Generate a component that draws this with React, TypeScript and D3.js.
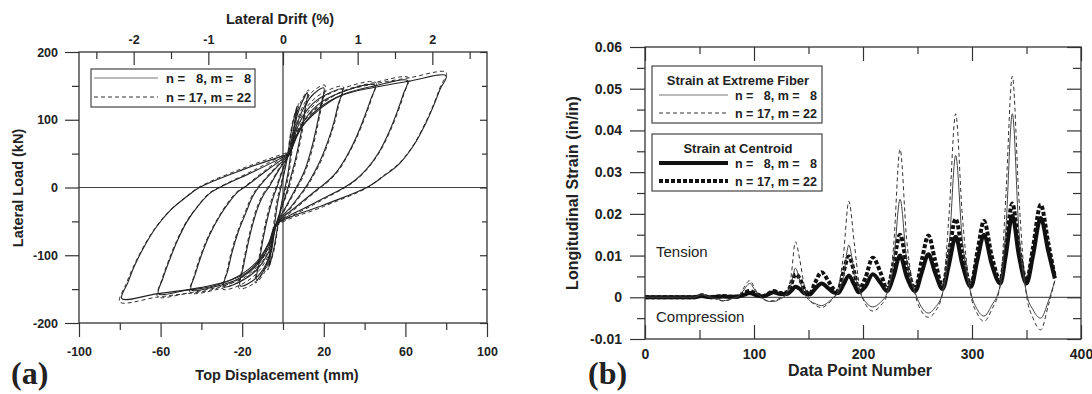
import { useEffect, useRef } from "react";
import * as d3 from "d3";

// ---------- (a) hysteresis: [top displacement (mm), lateral load (kN)] ----------
const loopsN8: [number, number][][] = [
  [[3.5, 50], [8, 84], [17, 113], [28, 135], [45, 148], [62, 157], [80, 165],
   [77, 145], [74, 122], [70, 95], [64, 62], [57, 35], [49, 16], [41, 0],
   [20, -26], [-3.5, -55],
   [-6, -76], [-11, -105], [-18, -126], [-28, -139], [-45, -150], [-62, -157], [-79, -164],
   [-76, -140], [-73, -117], [-68, -87], [-62, -58], [-55, -33], [-47, -13], [-41, 0],
   [-20, 26], [3.5, 50]],
  [[3.5, 50], [9, 88], [18, 118], [30, 138], [45, 150], [61, 158],
   [59, 138], [56, 112], [52, 82], [47, 52], [41, 27], [35, 10], [30, 0],
   [14, -25], [-3.5, -55],
   [-7, -82], [-13, -110], [-22, -131], [-35, -146], [-48, -152], [-61, -157],
   [-59, -135], [-56, -110], [-52, -80], [-47, -50], [-41, -25], [-36, -9], [-31, 0],
   [-14, 24], [3.5, 50]],
  [[3.5, 50], [9, 92], [17, 122], [28, 140], [45, 151],
   [43, 130], [40, 105], [36, 75], [31, 45], [26, 22], [21, 7], [18, 0],
   [7, -27], [-3.5, -55],
   [-7, -88], [-13, -115], [-22, -135], [-33, -146], [-45, -151],
   [-43, -128], [-40, -100], [-36, -70], [-31, -42], [-26, -20], [-22, -6], [-19, 0],
   [-8, 25], [3.5, 50]],
  [[3.5, 50], [8, 95], [14, 122], [21, 137], [29, 145],
   [27, 122], [25, 97], [22, 68], [18, 38], [14, 15], [11, 0],
   [4, -28], [-3.5, -55],
   [-7, -95], [-13, -122], [-21, -139], [-29, -146],
   [-27, -122], [-25, -96], [-22, -66], [-18, -36], [-15, -14], [-12, 0],
   [-4, 27], [3.5, 50]],
  [[3.5, 50], [7, 95], [11, 122], [15, 138], [20, 147],
   [18.5, 120], [16.5, 90], [14, 58], [11, 28], [8, 8], [6.5, 0],
   [1.5, -28], [-3.5, -55],
   [-6, -95], [-10, -122], [-15, -138], [-21, -145],
   [-19.5, -118], [-17.5, -88], [-15, -56], [-12, -27], [-9, -8], [-7, 0],
   [-2, 26], [3.5, 50]],
  [[3, 50], [5.5, 90], [8.5, 120], [12, 140],
   [10.5, 110], [8.5, 75], [6, 40], [3.5, 12], [2.5, 0],
   [-0.5, -28], [-3.5, -55],
   [-6, -92], [-9, -120], [-13, -137],
   [-11.5, -107], [-9.5, -72], [-7, -38], [-4.5, -12], [-3, 0],
   [0, 27], [3, 50]],
  [[2.5, 50], [4.5, 90], [7, 120],
   [5.5, 90], [4, 55], [2.5, 22], [1, 0],
   [-1, -28], [-2.5, -55],
   [-4.5, -90], [-7, -118],
   [-5.5, -88], [-4, -52], [-2.5, -20], [-1, 0],
   [1, 27], [2.5, 50]],
];

const loopsN17: [number, number][][] = [
  [[3.5, 53], [8, 88], [17, 118], [28, 140], [45, 153], [62, 162], [80, 170],
   [77, 148], [74, 124], [70, 97], [64, 63], [57, 36], [49, 17], [41.5, 0],
   [20, -28], [-3.5, -58],
   [-6, -80], [-11, -110], [-18, -131], [-28, -144], [-45, -155], [-62, -162], [-80, -169],
   [-77, -143], [-73.5, -118], [-68.5, -88], [-62.5, -59], [-55.5, -34], [-47.5, -14], [-41.5, 0],
   [-20, 28], [3.5, 53]],
  [[3.5, 53], [9, 92], [18, 122], [30, 143], [45, 155], [61.5, 162],
   [59.5, 140], [56.5, 113], [52.5, 83], [47.5, 53], [41.5, 28], [35.5, 10], [30.5, 0],
   [14, -27], [-3.5, -58],
   [-7, -86], [-13, -115], [-22, -136], [-35, -151], [-48, -157], [-61.5, -161],
   [-59.5, -137], [-56.5, -111], [-52.5, -81], [-47.5, -51], [-41.5, -26], [-36.5, -9], [-31.5, 0],
   [-14, 26], [3.5, 53]],
  [[3.5, 53], [9, 96], [17, 127], [28, 145], [45.5, 155],
   [43.5, 132], [40.5, 106], [36.5, 76], [31.5, 46], [26.5, 22], [21.5, 7], [18.5, 0],
   [7, -29], [-3.5, -58],
   [-7, -92], [-13, -120], [-22, -140], [-33, -151], [-45.5, -155],
   [-43.5, -130], [-40.5, -101], [-36.5, -71], [-31.5, -43], [-26.5, -20], [-22.5, -6], [-19.5, 0],
   [-8, 27], [3.5, 53]],
  [[3.5, 53], [8, 99], [14, 127], [21, 142], [29.5, 149],
   [27.5, 124], [25.5, 98], [22.5, 69], [18.5, 38], [14.5, 15], [11.5, 0],
   [4, -30], [-3.5, -58],
   [-7, -99], [-13, -127], [-21, -144], [-29.5, -150],
   [-27.5, -124], [-25.5, -97], [-22.5, -67], [-18.5, -36], [-15.5, -14], [-12.5, 0],
   [-4, 29], [3.5, 53]],
  [[3.5, 53], [7, 99], [11, 127], [15, 143], [20.5, 151],
   [19, 122], [17, 91], [14.5, 58], [11.5, 28], [8.5, 8], [7, 0],
   [1.5, -30], [-3.5, -58],
   [-6, -99], [-10, -127], [-15, -143], [-21.5, -149],
   [-20, -120], [-18, -89], [-15.5, -57], [-12.5, -27], [-9.5, -8], [-7.5, 0],
   [-2, 28], [3.5, 53]],
  [[3, 53], [5.5, 94], [8.5, 125], [12.5, 144],
   [11, 112], [9, 76], [6.5, 40], [4, 12], [3, 0],
   [-0.5, -30], [-3.5, -58],
   [-6, -96], [-9, -125], [-13.5, -141],
   [-12, -109], [-10, -73], [-7.5, -38], [-5, -12], [-3.5, 0],
   [0, 29], [3, 53]],
  [[2.5, 53], [4.5, 94], [7.5, 124],
   [6, 92], [4.5, 56], [3, 22], [1.5, 0],
   [-1, -30], [-2.5, -58],
   [-4.5, -94], [-7.5, -122],
   [-6, -90], [-4.5, -53], [-3, -20], [-1.5, 0],
   [1, 29], [2.5, 53]],
];

const dispMinor = [-80, -40, 0, 40, 80];
const dispMajor = [-100, -60, -20, 20, 60, 100];
const loadMinor = [-150, -50, 50, 150];
const loadMajor = [-200, -100, 0, 100, 200];
const driftMinor = [-2.5, -1.5, -0.5, 0.5, 1.5, 2.5];
const driftMajor = [-2, -1, 0, 1, 2];
const mmPerPercentDrift = 36.6;

// ---------- (b) longitudinal strain vs data point number ----------
const pointNumbers = [0, 10, 20, 30, 40, 45, 52, 60, 66, 72, 80, 86, 90, 96, 102, 108, 114, 118, 124, 130,
  134, 138, 142, 146, 151, 156, 162, 168, 173, 177, 182, 187, 192, 196, 202, 209, 216, 222, 228, 234,
  240, 248, 254, 260, 266, 273, 279, 285, 291, 299, 305, 311, 318, 326, 331, 337, 343, 350, 356, 363,
  370, 376];
const fiberN8 = [0, 0, 0, 0, 0, 0, 0.0006, 0, -0.0004, -0.0008, -0.0003, 0.0003, 0.0015, 0.0033, 0.0012, -0.0003, -0.001, -0.001, -0.0004, 0.0008,
  0.003, 0.007, 0.004, 0.001, -0.0008, -0.0015, -0.002, -0.0012, 0, 0.001, 0.005, 0.0125, 0.006, 0.002, -0.001, -0.0023, -0.0012, 0.001, 0.008, 0.0235,
  0.009, 0.001, -0.0025, -0.0038, -0.0025, 0.001, 0.012, 0.034, 0.014, 0.001, -0.003, -0.0045, -0.002, 0.003, 0.016, 0.044, 0.016, 0.001, -0.003, -0.005,
  -0.001, 0.004];
const fiberN17 = [0, 0, 0, 0, 0, 0, 0.0009, 0, -0.0005, -0.0009, -0.0004, 0.0003, 0.002, 0.004, 0.0015, -0.0003, -0.0009, -0.0008, -0.0002, 0.001,
  0.005, 0.0133, 0.009, 0.003, -0.0005, -0.0018, -0.0025, -0.0015, -0.0002, 0.002, 0.01, 0.023, 0.013, 0.004, -0.0015, -0.0033, -0.002, 0.0005, 0.012, 0.0355,
  0.014, 0.0005, -0.0035, -0.0048, -0.0035, 0.001, 0.02, 0.044, 0.02, 0.0005, -0.004, -0.0058, -0.003, 0.003, 0.024, 0.053, 0.024, 0.0005, -0.005, -0.0078,
  -0.002, 0.004];
const centroidN8 = [0, 0, 0, 0, 0, 0, 0.0003, 0, 0.0001, 0.0002, 0.0001, 0.0002, 0.0005, 0.001, 0.0005, 0.0002, 0.0008, 0.0012, 0.0008, 0.0008,
  0.0015, 0.0025, 0.002, 0.001, 0.0007, 0.002, 0.0033, 0.0022, 0.0012, 0.001, 0.003, 0.0052, 0.003, 0.0012, 0.0025, 0.0055, 0.0035, 0.0015, 0.005, 0.01,
  0.005, 0.0015, 0.006, 0.0103, 0.006, 0.002, 0.008, 0.0145, 0.008, 0.0025, 0.009, 0.015, 0.008, 0.0033, 0.01, 0.0195, 0.01, 0.0033, 0.01, 0.019,
  0.011, 0.0045];
const centroidN17 = [0, 0, 0, 0, 0, 0, 0.0004, 0, 0.0002, 0.0003, 0.0001, 0.0002, 0.0008, 0.0015, 0.0008, 0.0003, 0.001, 0.0015, 0.001, 0.0012,
  0.003, 0.0055, 0.0045, 0.002, 0.0008, 0.0035, 0.006, 0.004, 0.002, 0.0015, 0.006, 0.0098, 0.006, 0.0018, 0.0045, 0.0095, 0.006, 0.002, 0.008, 0.015,
  0.008, 0.002, 0.009, 0.0148, 0.009, 0.0025, 0.011, 0.0188, 0.011, 0.003, 0.011, 0.0183, 0.01, 0.004, 0.012, 0.0225, 0.012, 0.004, 0.012, 0.0222,
  0.013, 0.0048];

const strainMinor = [-0.005, 0.005, 0.015, 0.025, 0.035, 0.045, 0.055];
const strainMajor = [-0.01, 0, 0.01, 0.02, 0.03, 0.04, 0.05, 0.06];
const pointMinor = [50, 150, 250, 350];
const pointMajor = [0, 100, 200, 300, 400];

const SANS = "'Liberation Sans', Arial, sans-serif";
const SERIF = "'Liberation Serif', 'Times New Roman', serif";
const INK = "#222";

// plain hyphen minus, like the original figure
const intLabel = (d: number) => String(d);
const strainLabel = (d: number) => (d === 0 ? "0" : d.toFixed(2));

function styleAxis(g: any, fontSize: number) {
  g.select(".domain").remove();
  g.selectAll(".tick line").attr("stroke", "#333").attr("stroke-width", 1.2);
  g.selectAll(".tick text")
    .attr("fill", INK)
    .style("font-family", SANS)
    .style("font-weight", "bold")
    .style("font-size", fontSize + "px");
}

function addAxis(root: any, gen: any, tx: number, ty: number, fontSize = 12) {
  const g = root.append("g").attr("transform", `translate(${tx},${ty})`).call(gen);
  styleAxis(g, fontSize);
  return g;
}

function label(root: any, x: number, y: number, text: string, size: number, opts: any = {}) {
  const t = root
    .append("text")
    .attr("x", x)
    .attr("y", y)
    .attr("fill", INK)
    .attr("text-anchor", opts.anchor || "middle")
    .style("font-family", opts.family || SANS)
    .style("font-weight", opts.weight || "bold")
    .style("font-size", size + "px")
    .style("white-space", "pre")
    .text(text);
  if (opts.rotate) t.attr("transform", `rotate(-90,${x},${y})`);
  return t;
}

function drawHysteresis(root: any) {
  const x = d3.scaleLinear().domain([-100, 100]).range([79, 487]);
  const y = d3.scaleLinear().domain([-200, 200]).range([323, 52]);
  const drift = d3
    .scaleLinear()
    .domain([-100 / mmPerPercentDrift, 100 / mmPerPercentDrift])
    .range([79, 487]);

  const [x0, x1] = x.range();
  const [y0, y1] = y.range();

  // zero lines
  root.append("line").attr("x1", x0).attr("x2", x1).attr("y1", y(0)).attr("y2", y(0))
    .attr("stroke", "#444").attr("stroke-width", 1.2);
  root.append("line").attr("x1", x(0)).attr("x2", x(0)).attr("y1", y1).attr("y2", y0)
    .attr("stroke", "#555").attr("stroke-width", 1.4);

  const line = d3
    .line<[number, number]>()
    .x((d) => x(d[0]))
    .y((d) => y(d[1]))
    .curve(d3.curveCatmullRom.alpha(0.5));

  root.append("g").selectAll("path").data(loopsN17).join("path")
    .attr("d", line).attr("fill", "none").attr("stroke", "#333")
    .attr("stroke-width", 1).attr("stroke-dasharray", "4,3");
  root.append("g").selectAll("path").data(loopsN8).join("path")
    .attr("d", line).attr("fill", "none").attr("stroke", "#222").attr("stroke-width", 1.1);

  // axes
  addAxis(root, d3.axisBottom(x).tickValues(dispMinor).tickSize(7).tickFormat(() => ""), 0, y0);
  addAxis(root, d3.axisBottom(x).tickValues(dispMajor).tickSize(14).tickPadding(10).tickFormat(intLabel), 0, y0, 12.5);
  addAxis(root, d3.axisLeft(y).tickValues(loadMinor).tickSize(7).tickFormat(() => ""), x0, 0);
  addAxis(root, d3.axisLeft(y).tickValues(loadMajor).tickSize(14).tickPadding(7).tickFormat(intLabel), x0, 0, 12.5);
  addAxis(root, d3.axisRight(y).tickValues(loadMinor).tickSize(-5).tickFormat(() => ""), x1, 0);
  addAxis(root, d3.axisRight(y).tickValues(loadMajor).tickSize(-7).tickFormat(() => ""), x1, 0);
  addAxis(root, d3.axisTop(drift).tickValues(driftMinor).tickSize(-7).tickFormat(() => ""), 0, y1);
  addAxis(root, d3.axisTop(drift).tickValues(driftMajor).tickSize(-13).tickPadding(8).tickFormat(intLabel), 0, y1, 12.5);

  root.append("rect").attr("x", x0).attr("y", y1).attr("width", x1 - x0).attr("height", y0 - y1)
    .attr("fill", "none").attr("stroke", "#333").attr("stroke-width", 1.3);

  // legend
  const lg = root.append("g");
  lg.append("rect").attr("x", 91).attr("y", 69).attr("width", 164).attr("height", 38)
    .attr("fill", "#fff").attr("stroke", "#444").attr("stroke-width", 1.2);
  lg.append("line").attr("x1", 94).attr("x2", 158).attr("y1", 78).attr("y2", 78)
    .attr("stroke", "#777").attr("stroke-width", 1.2);
  lg.append("line").attr("x1", 94).attr("x2", 158).attr("y1", 97).attr("y2", 97)
    .attr("stroke", "#333").attr("stroke-width", 1.1).attr("stroke-dasharray", "4,3");
  label(lg, 166, 82.5, "n =   8, m =   8", 13, { anchor: "start" });
  label(lg, 166, 101.5, "n = 17, m = 22", 13, { anchor: "start" });

  // titles
  label(root, 280, 24, "Lateral Drift (%)", 14.5);
  label(root, 277, 380, "Top Displacement (mm)", 14.5);
  label(root, 23, 188, "Lateral Load (kN)", 14.5, { rotate: true });
  label(root, 11, 384, "(a)", 32, { anchor: "start", family: SERIF });
}

function drawStrain(root: any) {
  const x = d3.scaleLinear().domain([0, 400]).range([645, 1081]);
  const y = d3.scaleLinear().domain([-0.01, 0.06]).range([339, 47]);
  const [x0, x1] = x.range();
  const [y0, y1] = y.range();

  root.append("line").attr("x1", x0).attr("x2", x1).attr("y1", y(0)).attr("y2", y(0))
    .attr("stroke", "#555").attr("stroke-width", 1.3);

  const line = d3
    .line<number>()
    .x((_, i) => x(pointNumbers[i]))
    .y((d) => y(d))
    .curve(d3.curveMonotoneX);

  const series = [
    { values: centroidN8, width: 4, dash: null, color: "#111" },
    { values: centroidN17, width: 4, dash: "4,2", color: "#111" },
    { values: fiberN8, width: 1, dash: null, color: "#444" },
    { values: fiberN17, width: 1, dash: "4,3", color: "#333" },
  ];
  root.append("g").selectAll("path").data(series).join("path")
    .attr("d", (s: any) => line(s.values))
    .attr("fill", "none")
    .attr("stroke", (s: any) => s.color)
    .attr("stroke-width", (s: any) => s.width)
    .attr("stroke-dasharray", (s: any) => s.dash)
    .attr("stroke-linejoin", "round");

  addAxis(root, d3.axisLeft(y).tickValues(strainMinor).tickSize(8).tickFormat(() => ""), x0, 0);
  addAxis(root, d3.axisLeft(y).tickValues(strainMajor).tickSize(15).tickPadding(8).tickFormat(strainLabel), x0, 0, 14);
  addAxis(root, d3.axisRight(y).tickValues(strainMinor).tickSize(-8).tickFormat(() => ""), x1, 0);
  addAxis(root, d3.axisRight(y).tickValues(strainMajor).tickSize(-14).tickFormat(() => ""), x1, 0);
  addAxis(root, d3.axisTop(x).tickValues(pointMinor).tickSize(-7).tickFormat(() => ""), 0, y1);
  addAxis(root, d3.axisTop(x).tickValues(pointMajor).tickSize(-14).tickFormat(() => ""), 0, y1);
  addAxis(root, d3.axisBottom(x).tickValues(pointMinor).tickSize(-9).tickFormat(() => ""), 0, y0);
  addAxis(root, d3.axisBottom(x).tickValues(pointMajor).tickSize(-14).tickPadding(10).tickFormat(intLabel), 0, y0, 14);

  root.append("rect").attr("x", x0).attr("y", y1).attr("width", x1 - x0).attr("height", y0 - y1)
    .attr("fill", "none").attr("stroke", "#333").attr("stroke-width", 1.3);

  // legends
  const boxes = [
    { top: 66, title: "Strain at Extreme Fiber", thick: false },
    { top: 134, title: "Strain at Centroid", thick: true },
  ];
  boxes.forEach((b) => {
    const g = root.append("g");
    g.append("rect").attr("x", 652).attr("y", b.top).attr("width", 170).attr("height", 57)
      .attr("fill", "#fff").attr("stroke", "#444").attr("stroke-width", 1.2);
    label(g, 738, b.top + 19, b.title, 13);
    const w = b.thick ? 4 : 1;
    g.append("line").attr("x1", 659).attr("x2", 728).attr("y1", b.top + 29).attr("y2", b.top + 29)
      .attr("stroke", b.thick ? "#111" : "#777").attr("stroke-width", w);
    g.append("line").attr("x1", 659).attr("x2", 728).attr("y1", b.top + 47).attr("y2", b.top + 47)
      .attr("stroke", b.thick ? "#111" : "#333").attr("stroke-width", w)
      .attr("stroke-dasharray", b.thick ? "4,2" : "4,3");
    label(g, 735, b.top + 33.5, "n =   8, m =   8", 12.5, { anchor: "start" });
    label(g, 735, b.top + 51.5, "n = 17, m = 22", 12.5, { anchor: "start" });
  });

  label(root, 656, 257, "Tension", 15, { anchor: "start", weight: "normal" });
  label(root, 656, 322, "Compression", 15, { anchor: "start", weight: "normal" });

  label(root, 860, 376, "Data Point Number", 16);
  label(root, 578, 193, "Longitudinal Strain (in/in)", 16, { rotate: true });
  label(root, 588, 384, "(b)", 32, { anchor: "start", family: SERIF });
}

export default function App() {
  const ref = useRef<SVGSVGElement>(null);

  useEffect(() => {
    const svg = d3.select(ref.current);
    svg.selectAll("*").remove();
    drawHysteresis(svg.append("g"));
    drawStrain(svg.append("g"));
  }, []);

  return (
    <svg
      ref={ref}
      width={1092}
      height={394}
      style={{ position: "absolute", left: 0, top: 0, background: "#fff", display: "block" }}
    />
  );
}
